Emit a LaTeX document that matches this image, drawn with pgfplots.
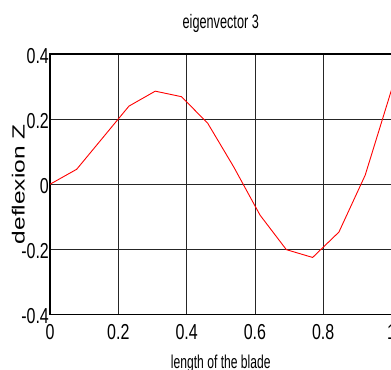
\documentclass[border=0pt]{standalone}
\usepackage{fontspec}
\setmainfont{Liberation Sans}
\newfontfamily\narrowf[FakeStretch=0.74]{Liberation Sans}
\newfontfamily\titlef[FakeStretch=0.65]{Liberation Sans}
\newfontfamily\widef[FakeStretch=1.39]{Liberation Sans}
\usepackage{pgfplots}
\pgfplotsset{compat=1.18}
\begin{document}
\begin{tikzpicture}
\begin{axis}[
  scale only axis, width=341pt, height=260pt,
  xmin=0, xmax=1, ymin=-0.4, ymax=0.4,
  xtick={0,0.2,0.4,0.6,0.8,1}, xticklabels={0,0.2,0.4,0.6,0.8,1},
  ytick={-0.4,-0.2,0,0.2,0.4}, yticklabels={-0.4,-0.2,0,0.2,0.4},
  major tick length=0pt,
  grid=major,
  major grid style={black!85, line width=0.8pt},
  axis line style={black, line width=1.2pt},
  xticklabel style={font=\narrowf\fontsize{21.6}{24}\selectfont, anchor=north, inner sep=0pt, yshift=-10pt},
  yticklabel style={font=\narrowf\fontsize{21.6}{24}\selectfont, anchor=east, inner sep=0pt, xshift=-1pt, yshift=-1.5pt},
  title={eigenvector 3},
  title style={font=\titlef\fontsize{19.5}{22}\selectfont, at={(axis description cs:0.5,1)}, anchor=base, inner sep=0pt, yshift=20pt},
  xlabel={length of the blade},
  xlabel style={font=\titlef\fontsize{18.6}{21}\selectfont, at={(axis description cs:0.5,0)}, anchor=base, inner sep=0pt, yshift=-54.3pt},
  ylabel={deflexion Z},
  ylabel style={font=\widef\fontsize{17.6}{20}\selectfont, at={([xshift=-25pt]axis description cs:0,0.5)}, rotate=0, anchor=south, inner sep=0pt},
]
\addplot[red, line width=0.9pt] coordinates {
(0,0) (0.078,0.046) (0.231,0.240) (0.308,0.286) (0.385,0.269) (0.462,0.187)
(0.538,0.053) (0.615,-0.095) (0.692,-0.201) (0.769,-0.225) (0.846,-0.147)
(0.923,0.028) (1.0,0.29)
};
\coordinate (ll) at (axis cs:0,-0.4);
\coordinate (ur) at (axis cs:1,0.4);
\end{axis}
\pgfresetboundingbox
\path[use as bounding box] ([xshift=-50pt,yshift=-55pt]ll) rectangle ([xshift=-0.5pt,yshift=54pt]ur);
\end{tikzpicture}
\end{document}
